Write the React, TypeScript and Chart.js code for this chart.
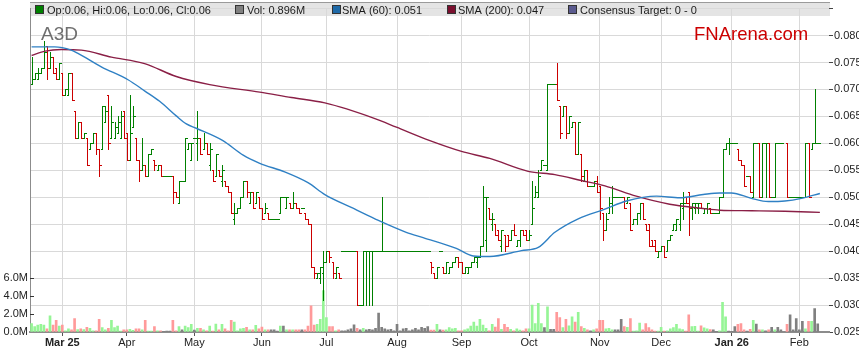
import React, { useEffect, useRef } from "react";
import { Chart, registerables } from "chart.js";

Chart.register(...registerables);

const FONT = "'Liberation Sans', Arial, Helvetica, sans-serif";

const tickerLabel = "A3D";
const brandLabel = "FNArena.com";
const priceUnit = 0.001; // OHLC arrays are in thousandths of a dollar

// x axis: one slot per weekday, index 0 = first bar
const monthTickIdx = [10, 31, 53, 75, 96, 119, 140, 162, 185, 205, 228, 250];
const monthTickLabels = ["Mar 25", "Apr", "May", "Jun", "Jul", "Aug", "Sep", "Oct", "Nov", "Dec", "Jan 26", "Feb"];
const priceTickValues = [0.025, 0.03, 0.035, 0.04, 0.045, 0.05, 0.055, 0.06, 0.065, 0.07, 0.075, 0.08, 0.085];
const volTickValues = [0, 2, 4, 6];

const opens = [
  71, 72, 72, 73, 74, 78, 74, 76, 74, 72,
  73, 69, 69, 73, 66, 61, 64, 61, 61, 59,
  60, 62, 59, 59, 64, 69, 61, 61, 62, 61,
  66, 62, 57, 63, 61, 57, 55, 56, 54, 58,
  57, 55, 56, 54, 54, 54, 54, 51, 49, 53,
  53, 59, 57, 61, 60, 61, 59, 60, 56, 55,
  54, 55, 53, 53, 52, 51, 46, 47, 48, 50,
  53, 49, 51, 49, 50, 48, 47, 47, 46, 46,
  46, 47, 50, 48, 49, 48, 49, 48, 48, 47,
  46, 45, 37, 35, 35, 36, 38, 40, 38, 35,
  36, 40, 40, 40, 40, 40, 40, 30, 30, 40,
  40, 40, 40, 40, 40, 40, 40, 40, 40, 40,
  40, 40, 40, 40, 40, 40, 40, 40, 40, 40,
  38, 36, 35, 40, 37, 36, 36, 37, 38, 39,
  38, 36, 36, 37, 38, 38, 39, 41, 42, 48,
  45, 45, 44, 41, 43, 43, 42, 44, 41, 42,
  44, 44, 42, 45, 50, 50, 55, 56, 55, 71,
  71, 71, 67, 65, 67, 62, 63, 64, 58, 58,
  53, 55, 52, 52, 53, 52, 47, 44, 47, 49,
  50, 50, 50, 50, 49, 49, 45, 46, 47, 49,
  45, 45, 42, 42, 39, 40, 41, 40, 42, 44,
  44, 45, 48, 50, 51, 48, 48, 48, 49, 47,
  48, 48, 47, 47, 47, 50, 59, 60, 60, 60,
  59, 57, 56, 54, 54, 50, 60, 60, 50, 60,
  60, 50, 50, 60, 60, null, 60, 50, 50, 50,
  50, 50, 50, 60, 59, 60, 60,
];
const highs = [
  76, 73, 74, 74, 79, 78, 77, 76, 74, 75,
  73, 70, 73, 73, 66, 64, 64, 62, 61, 60,
  62, 62, 59, 67, 67, 69, 67, 64, 65, 66,
  66, 62, 69, 67, 61, 57, 61, 56, 58, 59,
  57, 56, 56, 54, 54, 54, 54, 51, 53, 53,
  61, 60, 60, 61, 66, 61, 62, 60, 60, 55,
  58, 55, 56, 53, 52, 51, 49, 48, 50, 53,
  53, 51, 51, 51, 50, 48, 49, 47, 46, 46,
  46, 50, 50, 50, 49, 51, 49, 48, 48, 47,
  46, 45, 37, 36, 37, 40, 40, 40, 38, 37,
  36, 40, 40, 40, 40, 40, 40, 30, 40, 40,
  40, 40, 40, 40, 50, 40, 40, 40, 40, 40,
  40, 40, 40, 40, 40, 40, 40, 40, 40, 40,
  38, 36, 37, 40, 37, 38, 37, 38, 39, 39,
  38, 37, 37, 38, 39, 39, 41, 52, 50, 48,
  47, 45, 44, 44, 43, 43, 44, 45, 42, 44,
  44, 44, 44, 53, 52, 55, 57, 56, 71, 71,
  71, 75, 67, 67, 67, 65, 64, 64, 64, 58,
  55, 55, 52, 53, 54, 52, 47, 47, 50, 52,
  50, 50, 50, 50, 50, 49, 46, 47, 49, 49,
  45, 45, 42, 42, 40, 41, 41, 42, 43, 45,
  46, 49, 51, 50, 51, 49, 49, 49, 49, 48,
  49, 48, 47, 47, 50, 59, 60, 61, 60, 60,
  59, 57, 56, 54, 54, 60, 60, 60, 60, 60,
  60, 50, 60, 60, 60, null, 60, 50, 50, 50,
  50, 50, 60, 60, 60, 70, 60,
];
const lows = [
  71, 72, 72, 73, 74, 72, 74, 73, 72, 72,
  69, 69, 69, 68, 61, 61, 61, 61, 56, 59,
  60, 58, 54, 59, 64, 59, 61, 61, 62, 61,
  61, 57, 57, 63, 57, 53, 55, 54, 54, 58,
  55, 55, 54, 54, 54, 54, 49, 50, 49, 53,
  53, 59, 57, 61, 57, 58, 59, 58, 55, 53,
  54, 54, 52, 52, 51, 47, 45, 47, 48, 50,
  50, 49, 48, 49, 48, 46, 47, 46, 46, 46,
  46, 47, 50, 48, 48, 48, 48, 47, 48, 46,
  45, 37, 35, 35, 34, 31, 38, 38, 35, 35,
  35, 40, 40, 40, 40, 40, 30, 30, 30, 30,
  30, 30, 40, 40, 40, 40, 40, 40, 40, 40,
  40, 40, 40, 40, 40, 40, 40, 40, 40, 40,
  36, 35, 35, 40, 36, 36, 36, 37, 38, 37,
  36, 36, 36, 37, 38, 37, 39, 41, 40, 46,
  44, 43, 42, 40, 40, 41, 42, 43, 41, 41,
  43, 42, 42, 45, 50, 50, 55, 56, 55, 71,
  71, 68, 61, 65, 61, 62, 63, 58, 58, 53,
  53, 52, 52, 52, 51, 46, 42, 44, 47, 47,
  50, 50, 50, 48, 49, 44, 45, 45, 46, 46,
  44, 41, 41, 40, 39, 40, 39, 40, 42, 44,
  44, 44, 46, 49, 43, 46, 47, 47, 48, 47,
  47, 47, 47, 47, 47, 50, 59, 58, 60, 60,
  57, 56, 52, 54, 51, 50, 60, 50, 50, 50,
  50, 50, 50, 60, 60, null, 50, 50, 50, 50,
  50, 50, 50, 50, 59, 60, 60,
];
const closes = [
  72, 73, 73, 74, 77, 74, 76, 73, 72, 75,
  69, 70, 73, 68, 61, 64, 61, 62, 56, 60,
  62, 59, 56, 67, 66, 60, 64, 63, 64, 65,
  61, 57, 62, 65, 57, 55, 56, 54, 58, 59,
  56, 56, 54, 54, 54, 54, 51, 50, 53, 53,
  61, 60, 60, 61, 61, 58, 60, 58, 59, 53,
  58, 54, 55, 52, 51, 47, 47, 48, 50, 53,
  51, 51, 48, 51, 48, 46, 48, 46, 46, 46,
  46, 50, 50, 50, 48, 49, 48, 47, 48, 46,
  45, 37, 36, 36, 37, 38, 40, 39, 36, 37,
  35, 40, 40, 40, 40, 40, 30, 30, 40, 40,
  40, 40, 40, 40, 40, 40, 40, 40, 40, 40,
  40, 40, 40, 40, 40, 40, 40, 40, 40, 40,
  37, 35, 37, 40, 36, 38, 37, 38, 39, 38,
  36, 37, 37, 38, 39, 39, 41, 50, 50, 46,
  46, 43, 42, 44, 41, 42, 44, 43, 42, 44,
  43, 42, 43, 48, 51, 54, 57, 56, 71, 71,
  71, 68, 62, 67, 62, 65, 64, 58, 64, 54,
  55, 52, 52, 53, 51, 48, 44, 46, 49, 50,
  50, 50, 50, 48, 50, 44, 46, 47, 49, 46,
  44, 41, 41, 40, 40, 41, 39, 42, 43, 45,
  46, 49, 49, 49, 48, 49, 49, 49, 48, 48,
  49, 47, 47, 47, 50, 59, 60, 60, 60, 60,
  57, 56, 52, 54, 51, 60, 60, 50, 60, 60,
  50, 50, 60, 60, 60, null, 50, 50, 50, 50,
  50, 50, 60, 50, 60, 60, 60,
];
// volume in millions of shares
const volumesM = [
  0.95, 0.6, 0.77, 0.84, 0.77, 0.35, 1.8, 0.77, 1.3, 0.67,
  0.77, 0.14, 0.35, 0.25, 1.5, 0.28, 0.35, 0.28, 0.53, 0.4,
  0.14, 0.14, 1.4, 0.5, 0.25, 0.42, 1.3, 0.5, 0.67, 0.1,
  0.25, 0.25, 0.3, 0.18, 0.35, 0.35, 0.25, 1.3, 0.1, 0.1,
  0.6, 0.14, 0.14, 0.05, 0.1, 0.1, 1.3, 0.14, 0.6, 0.25,
  0.67, 0.5, 0.84, 0.2, 0.42, 0.42, 0.25, 0.14, 0.67, 0.1,
  0.88, 0.25, 0.84, 0.35, 0.14, 1.3, 1.1, 0.14, 0.35, 0.42,
  0.53, 0.25, 0.25, 0.74, 0.35, 0.56, 0.25, 0.25, 0.25, 0.25,
  0.1, 0.67, 0.67, 0.25, 0.25, 0.25, 0.25, 0.25, 0.25, 0.25,
  0.67, 2.9, 0.77, 0.84, 1.4, 4.6, 1.6, 0.6, 0.6, 0.14,
  0.25, 0.14, 0.14, 0.25, 0.35, 0.8, 0.4, 0.25, 0.4, 0.25,
  0.3, 0.25, 0.42, 2.1, 0.53, 0.35, 0.25, 0.3, 0.14, 0.84,
  0.14, 0.35, 0.42, 0.14, 0.25, 0.4, 0.25, 0.53, 0.4, 0.6,
  0.2, 0.2, 0.84, 0.25, 0.2, 0.25, 0.5, 0.35, 0.42, 0.14,
  0.14, 0.25, 0.35, 0.67, 1.1, 0.67, 1.4, 0.77, 0.42, 0.14,
  0.84, 0.56, 1.5, 0.3, 0.84, 0.53, 0.3, 0.14, 0.35, 0.2,
  0.14, 0.35, 0.35, 3.0, 0.95, 3.2, 0.95, 0.5, 2.8, 0.3,
  0.3, 2.2, 1.6, 0.5, 1.4, 0.7, 1.7, 1.1, 2.2, 0.6,
  0.42, 0.25, 0.14, 0.25, 0.35, 1.3, 1.3, 0.35, 0.42, 0.25,
  0.25, 0.25, 1.4, 0.6, 0.53, 1.5, 0.1, 0.14, 1.0, 0.25,
  0.95, 0.5, 0.25, 0.1, 0.1, 0.53, 0.1, 0.14, 0.35, 0.5,
  0.84, 0.35, 0.28, 0.1, 1.9, 0.6, 0.63, 0.1, 0.7, 0.46,
  0.35, 0.28, 0.25, 0.05, 0.14, 3.3, 1.7, 0.1, 0.05, 0.6,
  0.84, 0.95, 0.25, 0.1, 0.3, 1.3, 0.88, 0.25, 0.25, 0.14,
  0.25, 0.53, 0.25, 0.53, 0.25, null, 0.84, 1.9, 0.25, 1.5,
  0.25, 1.2, 0.35, 1.2, 1.2, 2.6, 0.896,
];

// moving averages at selected bar positions
const sma60Idx = [0, 7.5, 12.9, 15.1, 22.7, 31.4, 36.9, 41.7, 47.1, 50.4, 53.6, 62.3, 68.9, 74.3, 82.4, 90, 95.5, 104.1, 111.8, 122, 127.5, 138.3, 143.8, 149.2, 159.5, 165, 170.4, 178, 186.7, 193.7, 203.5, 211.1, 218.7, 224.1, 227.9, 234.4, 239.9, 245.3, 250.7, 256.7];
const sma60Val = [0.0779, 0.0779, 0.0773, 0.0767, 0.0742, 0.0718, 0.0697, 0.0678, 0.0651, 0.0636, 0.0628, 0.0605, 0.0578, 0.0563, 0.0547, 0.0527, 0.0505, 0.0481, 0.046, 0.0435, 0.0425, 0.0405, 0.0391, 0.039, 0.0401, 0.0407, 0.0435, 0.046, 0.0478, 0.0493, 0.0502, 0.0499, 0.0505, 0.0508, 0.0508, 0.0498, 0.0492, 0.0493, 0.0498, 0.0507];
const sma200Idx = [0, 4.4, 9.7, 16.2, 26, 36.8, 47.1, 58, 74.3, 84.6, 95.5, 111.8, 118.8, 129.7, 140, 149.2, 161.7, 170.4, 179, 186.7, 196.9, 207.8, 218.7, 224.1, 234.4, 245.3, 256.7];
const sma200Val = [0.0763, 0.0771, 0.0774, 0.0773, 0.076, 0.0748, 0.0724, 0.0709, 0.0695, 0.0685, 0.0675, 0.0646, 0.063, 0.0605, 0.0585, 0.0572, 0.0548, 0.0542, 0.0531, 0.0521, 0.0502, 0.0487, 0.0479, 0.0476, 0.0475, 0.0474, 0.0472];

const UP = "#008000";
const DOWN = "#cc0000";
const VOL_UP = "#96f596";
const VOL_DOWN = "#ff9a9a";
const VOL_FLAT = "#808080";
const SMA60_COLOR = "#2f80c4";
const SMA200_COLOR = "#8a1f46";

export default function App() {
  const ref = useRef<HTMLCanvasElement | null>(null);

  useEffect(() => {
    document.body.style.margin = "0";
    const canvas = ref.current;
    if (!canvas) return;
    const n = closes.length;

    const volPts: any[] = [];
    const volColors: string[] = [];
    for (let i = 0; i < n; i++) {
      const v = volumesM[i];
      if (v == null || opens[i] == null) continue;
      volPts.push({ x: i, y: v });
      const o = opens[i] as number;
      const c = closes[i] as number;
      volColors.push(c > o ? VOL_UP : c < o ? VOL_DOWN : VOL_FLAT);
    }
    const sma60Pts = sma60Idx.map((x, k) => ({ x, y: sma60Val[k] }));
    const sma200Pts = sma200Idx.map((x, k) => ({ x, y: sma200Val[k] }));

    let last = n - 1;
    while (last > 0 && closes[last] == null) last--;
    const fmt = (v: number) => String(+(v * priceUnit).toFixed(3));
    const legendItems = [
      { color: UP, sq: 35, tx: 47, text: `Op:${fmt(opens[last] as number)}, Hi:${fmt(highs[last] as number)}, Lo:${fmt(lows[last] as number)}, Cl:${fmt(closes[last] as number)}` },
      { color: VOL_FLAT, sq: 235, tx: 247, text: `Vol: ${volumesM[last]}M` },
      { color: "#1f6aa8", sq: 332, tx: 342, text: `SMA (60): ${sma60Val[sma60Val.length - 1].toFixed(3)}` },
      { color: "#7a0f2e", sq: 447, tx: 458, text: `SMA (200): ${sma200Val[sma200Val.length - 1].toFixed(3)}` },
      { color: "#5a5a8e", sq: 568, tx: 580, text: "Consensus Target: 0 - 0" },
    ];

    const ohlcPlugin = {
      id: "ohlcBars",
      afterDatasetDraw(chart: any, args: any) {
        if (args.index !== 0) return;
        const ctx = chart.ctx;
        const xs = chart.scales.x;
        const ys = chart.scales.y;
        ctx.save();
        for (let i = 0; i < n; i++) {
          const o = opens[i], h = highs[i], l = lows[i], c = closes[i];
          if (o == null || h == null || l == null || c == null) continue;
          const px = Math.round(xs.getPixelForValue(i));
          const yh = Math.round(ys.getPixelForValue(h * priceUnit));
          const yl = Math.round(ys.getPixelForValue(l * priceUnit));
          const yo = Math.round(ys.getPixelForValue(o * priceUnit));
          const yc = Math.round(ys.getPixelForValue(c * priceUnit));
          ctx.fillStyle = c < o ? DOWN : UP;
          ctx.fillRect(px, yh, 1, Math.max(1, yl - yh + 1));
          ctx.fillRect(px - 1, yo, 1, 1);
          ctx.fillRect(px + 1, yc, 2, 1);
        }
        ctx.restore();
      },
    };

    const overlayPlugin = {
      id: "overlay",
      beforeDraw(chart: any) {
        const ctx = chart.ctx;
        const ca = chart.chartArea;
        ctx.save();
        ctx.fillStyle = "#e4e4e4";
        ctx.fillRect(ca.left, 2, ca.right - ca.left + 1, 14);
        ctx.restore();
      },
      afterDraw(chart: any) {
        const ctx = chart.ctx;
        const ca = chart.chartArea;
        const yv = chart.scales.yVol;
        ctx.save();
        // inner ticks of the volume axis
        ctx.strokeStyle = "#333";
        ctx.lineWidth = 1;
        for (const v of volTickValues) {
          if (v === 0) continue;
          const y = Math.round(yv.getPixelForValue(v)) + 0.5;
          ctx.beginPath();
          ctx.moveTo(ca.left, y);
          ctx.lineTo(ca.left + 4, y);
          ctx.stroke();
        }
        // frame top line
        ctx.strokeStyle = "#9a9a9a";
        ctx.beginPath();
        ctx.moveTo(ca.left, 2.5);
        ctx.lineTo(ca.right + 1, 2.5);
        ctx.stroke();
        // legend items
        ctx.font = `11px ${FONT}`;
        ctx.textBaseline = "alphabetic";
        for (const it of legendItems) {
          ctx.fillStyle = it.color;
          ctx.fillRect(it.sq, 5, 9, 9);
          ctx.strokeStyle = "#333";
          ctx.strokeRect(it.sq + 0.5, 5.5, 8, 8);
          ctx.fillStyle = "#1a1a1a";
          ctx.fillText(it.text, it.tx, 13.5);
        }
        // ticker and brand
        ctx.font = `19px ${FONT}`;
        ctx.fillStyle = "rgba(95,95,95,0.9)";
        ctx.fillText(tickerLabel, 41, 39.5);
        ctx.font = `18.5px ${FONT}`;
        ctx.fillStyle = "#cc0000";
        ctx.fillText(brandLabel, 694, 39.5);
        ctx.restore();
      },
    };

    const chart = new Chart(canvas, {
      type: "bar",
      data: {
        datasets: [
          {
            type: "bar",
            label: "Vol",
            data: volPts,
            backgroundColor: volColors,
            yAxisID: "yVol",
            xAxisID: "x",
            barThickness: 2,
            grouped: false,
            order: 3,
          } as any,
          {
            type: "line",
            label: "SMA (200)",
            data: sma200Pts,
            borderColor: SMA200_COLOR,
            borderWidth: 1.4,
            pointRadius: 0,
            cubicInterpolationMode: "monotone",
            yAxisID: "y",
            xAxisID: "x",
            order: 2,
          } as any,
          {
            type: "line",
            label: "SMA (60)",
            data: sma60Pts,
            borderColor: SMA60_COLOR,
            borderWidth: 1.4,
            pointRadius: 0,
            cubicInterpolationMode: "monotone",
            yAxisID: "y",
            xAxisID: "x",
            order: 1,
          } as any,
        ],
      },
      options: {
        responsive: false,
        animation: false,
        devicePixelRatio: 1,
        events: [],
        layout: { padding: { top: 2, left: 0, right: 0, bottom: 0 } },
        plugins: {
          legend: { display: false },
          tooltip: { enabled: false },
          title: { display: false },
        },
        scales: {
          x: {
            type: "linear",
            position: "bottom",
            min: -0.52,
            max: 259.67,
            offset: false,
            afterBuildTicks: (s: any) => {
              s.ticks = monthTickIdx.map((v) => ({ value: v }));
            },
            afterFit: (s: any) => {
              s.height = 31;
            },
            grid: { color: "#d9d9d9", lineWidth: 1, drawTicks: true, tickLength: 4, tickColor: "#555", offset: false },
            border: { display: true, color: "#8c8c8c", width: 2 },
            ticks: {
              autoSkip: false,
              maxRotation: 0,
              minRotation: 0,
              padding: 0,
              color: "#222",
              callback: (v: any) => {
                const k = monthTickIdx.indexOf(Number(v));
                return k >= 0 ? monthTickLabels[k] : "";
              },
              font: (ctx: any) => ({
                family: FONT,
                size: 11,
                weight: (monthTickLabels[ctx.index] || "").indexOf(" ") >= 0 ? "bold" : "normal",
              }),
            },
          },
          y: {
            type: "linear",
            position: "right",
            min: 0.025,
            max: 0.085,
            afterBuildTicks: (s: any) => {
              s.ticks = priceTickValues.map((v) => ({ value: v }));
            },
            afterFit: (s: any) => {
              s.width = 30;
            },
            grid: { color: "#d9d9d9", lineWidth: 1, drawTicks: true, tickLength: 4, tickColor: "#444" },
            border: { display: false },
            ticks: {
              padding: 1,
              color: "#222",
              font: { family: FONT, size: 11 },
              callback: (v: any) => (Number(v) > 0.0805 ? "" : Number(v).toFixed(3)),
            },
          },
          yVol: {
            type: "linear",
            position: "left",
            min: 0,
            max: 36,
            afterBuildTicks: (s: any) => {
              s.ticks = volTickValues.map((v) => ({ value: v }));
            },
            afterFit: (s: any) => {
              s.width = 30;
            },
            grid: { display: true, drawOnChartArea: false, drawTicks: false },
            border: { display: true, color: "#8c8c8c", width: 1 },
            ticks: {
              padding: 2,
              color: "#222",
              font: { family: FONT, size: 11 },
              callback: (v: any) => Number(v).toFixed(1) + "M",
            },
          },
        },
      } as any,
      plugins: [ohlcPlugin, overlayPlugin],
    });

    return () => {
      chart.destroy();
    };
  }, []);

  return (
    <canvas
      ref={ref}
      width={859}
      height={363}
      style={{ display: "block", width: 859, height: 363 }}
    />
  );
}
